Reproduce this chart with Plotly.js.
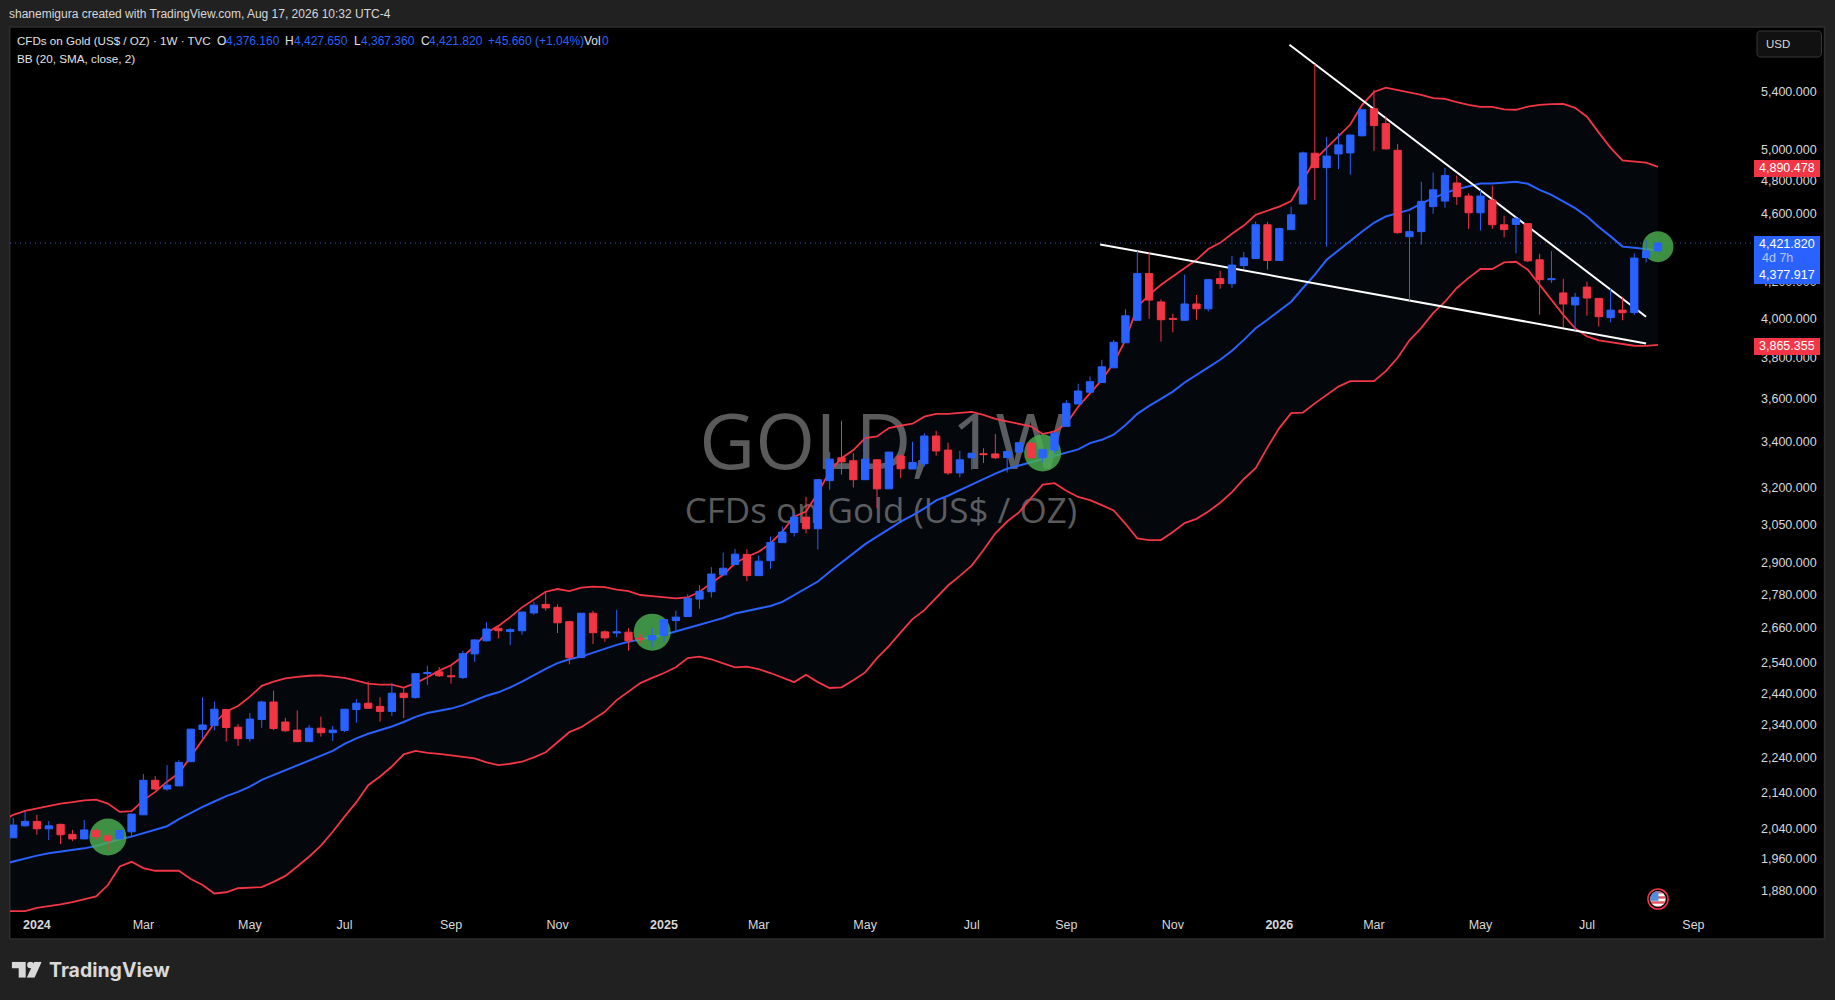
<!DOCTYPE html>
<html>
<head>
<meta charset="utf-8">
<script src="https://cdn.plot.ly/plotly-3.0.1.min.js"></script>
<style>html,body{margin:0;padding:0;background:#212121;overflow:hidden}#chart{width:1835px;height:1000px}</style>
</head>
<body>
<div id="chart"></div>
<script>
var firstWeek = '2023-12-18';
var bandLeadWeek = '2023-12-11';
var opens = [2016,2048,2060,2040,2052,2025,2013,2035,2021,2013,
2032,2078,2175,2150,2159,2229,2326,2338,2388,2333,
2298,2357,2412,2349,2324,2289,2330,2316,2323,2388,
2408,2398,2382,2440,2426,2504,2510,2497,2491,2570,
2615,2658,2647,2650,2713,2744,2733,2682,2558,2712,
2646,2642,2645,2624,2618,2633,2686,2700,2763,2790,
2853,2892,2931,2850,2907,2977,3017,3079,3032,3231,
3330,3317,3235,3321,3196,3338,3281,3304,3427,3364,
3264,3330,3348,3347,3331,3355,3395,3330,3364,3471,
3575,3631,3678,3750,3876,3993,4247,4091,4003,3993,
4080,4054,4219,4191,4293,4332,4530,4321,4501,4656,
4979,4885,4974,4981,5095,5280,5177,4998,4459,4489,
4640,4674,4787,4705,4602,4680,4530,4532,4537,4325,
4213,4140,4075,4172,4110,4007,4047,4034,4338,4376.16];
var highs = [2069,2086,2078,2061,2054,2037,2064,2042,2028,2037,
2082,2193,2187,2219,2234,2328,2427,2414,2390,2343,
2377,2416,2448,2362,2385,2340,2366,2337,2390,2421,
2478,2427,2473,2457,2506,2530,2526,2530,2581,2620,
2680,2667,2659,2717,2753,2789,2744,2685,2713,2721,
2651,2724,2659,2639,2659,2690,2721,2781,2814,2882,
2938,2952,2951,2927,3001,3041,3095,3163,3238,3355,
3497,3350,3436,3324,3356,3345,3401,3440,3451,3397,
3361,3352,3372,3436,3359,3400,3401,3368,3443,3593,
3672,3708,3790,3891,4052,4377,4371,4105,4028,4241,
4129,4217,4263,4347,4370,4550,4547,4511,4640,4990,
5601,5087,5114,5102,5275,5412,5227,5041,4595,4795,
4853,4883,4834,4723,4744,4771,4584,4580,4541,4359,
4375,4218,4140,4202,4112,4163,4119,4362,4441,4427.65];
var lows = [2015,2046,2024,2010,1999,2007,2012,2010,1983,2012,
2021,2078,2147,2145,2159,2229,2299,2323,2289,2276,
2289,2331,2324,2319,2287,2288,2304,2291,2318,2347,
2390,2350,2368,2361,2423,2467,2493,2471,2486,2543,
2612,2623,2600,2636,2706,2721,2642,2535,2558,2604,
2612,2628,2581,2607,2593,2612,2651,2698,2728,2769,
2852,2891,2829,2850,2876,2976,3001,3014,2950,3192,
3257,3202,3235,3115,3196,3242,3281,3292,3340,3255,
3245,3278,3307,3324,3266,3353,3328,3309,3350,3468,
3575,3631,3675,3750,3875,3993,4001,3882,3930,3993,
3996,4040,4163,4168,4273,4331,4269,4321,4500,4655,
4680,4401,4876,4840,5090,4994,5005,4477,4097,4413,
4596,4634,4650,4505,4496,4505,4455,4362,4312,4022,
4195,3958,3940,4017,3961,3982,3993,4021,4310,4367.36];
var closes = [2050,2060,2040,2048,2024,2013,2037,2019,2008,2035,
2080,2175,2150,2161,2227,2327,2340,2389,2332,2298,
2358,2412,2329,2322,2289,2330,2316,2324,2389,2408,
2392,2382,2440,2426,2504,2508,2497,2494,2571,2618,
2656,2650,2654,2716,2741,2731,2678,2557,2712,2643,
2625,2646,2615,2621,2633,2689,2698,2766,2792,2856,
2878,2932,2850,2905,2978,3019,3079,3032,3235,3324,
3312,3235,3324,3196,3355,3282,3309,3427,3360,3264,
3321,3350,3344,3330,3358,3397,3330,3367,3440,3578,
3637,3682,3755,3879,4017,4247,4101,3996,3998,4080,
4054,4213,4191,4295,4336,4530,4321,4507,4590,4981,
4885,4960,5034,5100,5273,5164,5007,4483,4489,4672,
4744,4834,4701,4602,4705,4530,4501,4566,4319,4213,
4218,4080,4116,4112,4012,4047,4033,4335,4376,4421.82];
var bbUpper = [2060,2078,2089,2096,2104,2109,2113,2118,2120,2109,2086,
2088,2118,2142,2171,2195,2244,2294,2346,2382,2399,
2429,2464,2478,2488,2493,2497,2498,2495,2490,2481,
2471,2468,2468,2458,2473,2492,2514,2532,2561,2597,
2642,2667,2698,2733,2762,2790,2800,2792,2805,2809,
2807,2798,2792,2778,2774,2771,2766,2769,2790,2822,
2853,2897,2922,2941,2974,3021,3081,3102,3178,3271,
3328,3364,3418,3425,3463,3474,3483,3516,3529,3529,
3533,3538,3524,3506,3494,3483,3471,3436,3448,3483,
3562,3626,3691,3774,3891,4064,4129,4185,4230,4275,
4325,4387,4423,4477,4525,4590,4614,4640,4674,4808,
4936,5014,5089,5171,5307,5398,5429,5412,5391,5377,
5355,5350,5327,5307,5293,5293,5275,5273,5295,5307,
5312,5314,5286,5225,5116,5014,4932,4925,4917,4890.478];
var bbBasis = [1946,1954,1962,1969,1975,1979,1982,1988,1994,2003,2012,
2019,2028,2037,2047,2066,2084,2100,2115,2130,2142,
2157,2176,2190,2204,2219,2234,2248,2261,2282,2299,
2313,2323,2335,2349,2365,2377,2385,2391,2402,2417,
2432,2443,2459,2478,2500,2520,2539,2552,2561,2575,
2588,2601,2612,2621,2628,2636,2647,2659,2671,2683,
2695,2711,2720,2728,2738,2753,2778,2803,2828,2865,
2899,2935,2971,3001,3031,3061,3086,3115,3148,3167,
3191,3215,3238,3261,3282,3296,3309,3321,3338,3350,
3367,3395,3410,3433,3477,3529,3566,3599,3634,3678,
3713,3752,3790,3836,3891,3951,3996,4042,4092,4167,
4241,4325,4381,4437,4490,4542,4580,4600,4620,4660,
4691,4723,4748,4765,4784,4784,4791,4795,4782,4744,
4712,4670,4630,4580,4517,4461,4401,4395,4387,4377.917];
var bbLower = [1830,1830,1830,1838,1842,1846,1852,1859,1866,1894,1941,
1953,1937,1930,1930,1930,1909,1894,1873,1876,1886,
1888,1889,1902,1917,1941,1966,1995,2032,2073,2113,
2161,2186,2215,2251,2261,2255,2252,2248,2242,2239,
2227,2219,2223,2229,2242,2257,2287,2318,2333,2356,
2381,2418,2444,2473,2490,2506,2525,2556,2561,2552,
2538,2525,2527,2519,2506,2491,2476,2500,2476,2457,
2459,2482,2508,2556,2597,2644,2691,2723,2768,2813,
2849,2888,2948,3014,3061,3098,3156,3214,3220,3188,
3162,3149,3128,3106,3052,2994,2987,2987,3019,3055,
3072,3102,3138,3182,3238,3285,3376,3463,3532,3535,
3578,3618,3658,3685,3685,3685,3734,3800,3889,3953,
4031,4092,4167,4223,4273,4273,4310,4314,4269,4185,
4101,4022,3951,3909,3888,3879,3869,3861,3860,3865.355];
var priceTicks = [5400,5000,4800,4600,4200,4000,3800,3600,3400,3200,3050,2900,2780,2660,2540,2440,2340,2240,2140,2040,1960,1880];
var priceLabels = ['5,400.000','5,000.000','4,800.000','4,600.000','4,200.000','4,000.000','3,800.000','3,600.000','3,400.000','3,200.000','3,050.000','2,900.000','2,780.000','2,660.000','2,540.000','2,440.000','2,340.000','2,240.000','2,140.000','2,040.000','1,960.000','1,880.000'];
var timeTicks = ['2024-01-01','2024-03-04','2024-05-06','2024-07-01','2024-09-02','2024-11-04','2025-01-06','2025-03-03','2025-05-05','2025-07-07','2025-09-01','2025-11-03','2026-01-05','2026-03-02','2026-05-04','2026-07-06','2026-09-07'];
var timeLabels = ['<b>2024</b>','Mar','May','Jul','Sep','Nov','<b>2025</b>','Mar','May','Jul','Sep','Nov','<b>2026</b>','Mar','May','Jul','Sep'];
var signalDates = ['2024-02-12','2024-12-30','2025-08-18','2026-08-17'];
var signalPrices = [2018,2645,3351,4401];
var signalSizes = [37,37,37,31];
var upperTrendDates = ['2026-01-11','2026-08-10'];
var upperTrendPrices = [5746,4012];
var lowerTrendDates = ['2025-09-21','2026-08-10'];
var lowerTrendPrices = [4414,3873];
var lastPrice = 4421.82;

var dates = opens.map(function(_, i){
  var d = new Date(firstWeek + 'T00:00:00Z');
  d.setUTCDate(d.getUTCDate() + 7*i);
  return d.toISOString().slice(0,10);
});
var bandDates = [bandLeadWeek].concat(dates);

var L = 10.3, T = 27, R = 1755, B = 915, W = R-L, H = B-T;
function px(x){ return (x-L)/W; }
function py(y){ return 1-(y-T)/H; }
var xRange = ['2023-12-16 02:00','2026-10-13 10:00'];
var yRange = [Math.log10(1820.5), Math.log10(5882)];
var BLUE = '#2962ff', RED = '#f23645';
var FONT = '"Liberation Sans",sans-serif';
var FONT2 = '"Open Sans","Noto Sans",sans-serif';
var bandFill = 'rgba(100,166,255,0.045)';

var traces = [
  {type:'scatter',mode:'lines',x:bandDates,y:bbLower,line:{color:RED,width:1.8},hoverinfo:'skip',showlegend:false},
  {type:'scatter',mode:'lines',x:bandDates,y:bbUpper,line:{color:RED,width:1.8},fill:'tonexty',fillcolor:bandFill,hoverinfo:'skip',showlegend:false},
  {type:'scatter',mode:'lines',x:bandDates,y:bbBasis,line:{color:BLUE,width:2},hoverinfo:'skip',showlegend:false},
  {type:'scatter',mode:'lines',x:xRange,y:[lastPrice,lastPrice],line:{color:'rgba(70,120,255,0.75)',width:1,dash:'1px 4px'},hoverinfo:'skip',showlegend:false},
  {type:'scatter',mode:'markers',x:signalDates,y:signalPrices,marker:{size:signalSizes,opacity:1,color:'rgba(76,175,80,0.82)',line:{width:0}},hoverinfo:'skip',showlegend:false},
  {type:'scatter',mode:'lines',x:upperTrendDates,y:upperTrendPrices,line:{color:'#ffffff',width:2},hoverinfo:'skip',showlegend:false},
  {type:'scatter',mode:'lines',x:lowerTrendDates,y:lowerTrendPrices,line:{color:'#ffffff',width:2},hoverinfo:'skip',showlegend:false},
  {type:'candlestick',x:dates,open:opens,high:highs,low:lows,close:closes,xaxis:'x2',yaxis:'y2',whiskerwidth:0,
   increasing:{line:{color:BLUE,width:1},fillcolor:BLUE},decreasing:{line:{color:RED,width:1},fillcolor:RED},hoverinfo:'skip',showlegend:false}
];

function note(x,y,text,color,size,anchor,font){
  return {xref:'paper',yref:'paper',x:px(x),y:py(y),text:text,showarrow:false,xanchor:anchor||'left',yanchor:'middle',
    font:{family:font||FONT,size:size||12,color:color||'#d8d8d8'},borderpad:0,borderwidth:0};
}
function rr(x0,y0,x1,y1,r){
  var a=px(x0),b=px(x1),c=py(y0),d=py(y1),rx=r/W,ry=r/H;
  return 'M'+(a+rx)+','+c+' L'+(b-rx)+','+c+' Q'+b+','+c+' '+b+','+(c-ry)+' L'+b+','+(d+ry)+' Q'+b+','+d+' '+(b-rx)+','+d+
    ' L'+(a+rx)+','+d+' Q'+a+','+d+' '+a+','+(d+ry)+' L'+a+','+(c-ry)+' Q'+a+','+c+' '+(a+rx)+','+c+' Z';
}
function pbox(x0,y0,x1,y1,fill,line,extra){
  var s={type:'rect',xref:'paper',yref:'paper',x0:px(x0),x1:px(x1),y0:py(y0),y1:py(y1),fillcolor:fill,line:line||{width:0},layer:'below'};
  for(var k in (extra||{})) s[k]=extra[k];
  return s;
}

var shapes = [
  pbox(10,27,1824.5,939,'#000000',{color:'#2e2e2e',width:1.5}),
  Object.assign(pbox(383,397,1383,492,'rgba(0,0,0,0)'),{label:{text:'GOLD, 1W',font:{family:FONT2,size:77,color:'#5a5a5a'},textposition:'middle center'}}),
  Object.assign(pbox(381,490,1381,533,'rgba(0,0,0,0)'),{label:{text:'CFDs on Gold (US$ / OZ)',font:{family:FONT2,size:35,color:'#5a5a5a'},textposition:'middle center'}}),
  {type:'path',xref:'paper',yref:'paper',path:rr(1757,31,1821.5,57,4),fillcolor:'#111111',line:{color:'#363636',width:1},layer:'above'},
  pbox(1754,160,1820,177,RED,null,{layer:'above'}),
  pbox(1754,236,1820,284,BLUE,null,{layer:'above'}),
  pbox(1754,338,1820,355,RED,null,{layer:'above'})
];

var annotations = [
  note(9.4,14.5,'shanemigura created with TradingView.com, Aug 17, 2026 10:32 UTC-4','#d8d8d8',12),
  note(17.6,41,'CFDs on Gold (US$ / OZ) · 1W · TVC','#e0e0e0',11.6),
  note(217.7,41,'O','#e0e0e0',12), note(226,41,'4,376.160',BLUE,12),
  note(285.5,41,'H','#e0e0e0',12), note(294,41,'4,427.650',BLUE,12),
  note(354.6,41,'L','#e0e0e0',12), note(361.6,41,'4,367.360',BLUE,12),
  note(421,41,'C','#e0e0e0',12), note(429,41,'4,421.820',BLUE,12),
  note(488,41,'+45.660 (+1.04%)',BLUE,12),
  note(584,41,'Vol','#e0e0e0',12), note(602,41,'0',BLUE,12),
  note(17.6,58.5,'BB (20, SMA, close, 2)','#e0e0e0',11.7),
  note(1766,44.5,'USD','#d8d8d8',11.5),
  note(1815,168,'4,890.478','#ffffff',12.5,'right'),
  note(1815,244,'4,421.820','#ffffff',12.5,'right'),
  note(1762,258,'4d 7h','#b4c6f8',12.5),
  note(1815,275,'4,377.917','#ffffff',12.5,'right'),
  note(1815,346,'3,865.355','#ffffff',12.5,'right'),
  note(49,969.5,'<b>TradingView</b>','#d9d9d9',19.5,'left','"Inter","Roboto",sans-serif')
];

var logoSvg = '<svg xmlns="http://www.w3.org/2000/svg" viewBox="0 0 30 16"><path fill="#d9d9d9" d="M0 0H14V16H7V6.5H0Z"/><circle fill="#d9d9d9" cx="18.7" cy="3.3" r="3.3"/><path fill="#d9d9d9" d="M22.5 0H30L22.8 16H15Z"/></svg>';
var flagSvg = '<svg xmlns="http://www.w3.org/2000/svg" viewBox="0 0 24 24"><circle cx="12" cy="12" r="11" fill="#000" stroke="#f23645" stroke-width="1.6"/><clipPath id="c"><circle cx="12" cy="12" r="8.4"/></clipPath><g clip-path="url(#c)"><rect width="24" height="24" fill="#fff"/><rect y="3" width="24" height="3" fill="#e05260"/><rect y="9" width="24" height="2.6" fill="#e05260"/><rect y="14.5" width="24" height="2.6" fill="#e05260"/><rect y="19.5" width="24" height="3" fill="#e05260"/><rect x="2" y="3" width="10.5" height="11" fill="#4a8fe0"/></g></svg>';
function dataUri(s){ return 'data:image/svg+xml;base64,'+btoa(s); }

var images = [
  {source:dataUri(logoSvg),xref:'paper',yref:'paper',x:px(12),y:py(961.7),sizex:30/W,sizey:16/H,xanchor:'left',yanchor:'top',sizing:'stretch',layer:'above'},
  {source:dataUri(flagSvg),xref:'paper',yref:'paper',x:px(1647),y:py(888),sizex:22/W,sizey:22/H,xanchor:'left',yanchor:'top',sizing:'stretch',layer:'above'}
];

var layout = {
  width:1835,height:1000,
  margin:{l:L,r:1835-R,t:T,b:1000-B,pad:0},
  paper_bgcolor:'#212121',plot_bgcolor:'#000000',
  showlegend:false,boxgap:0.12,dragmode:false,hovermode:false,
  font:{family:FONT,color:'#d8d8d8',size:13},
  xaxis:{type:'date',range:xRange,tickmode:'array',tickvals:timeTicks,ticktext:timeLabels,tickangle:0,showgrid:false,zeroline:false,showline:false,ticks:'',
    tickfont:{family:FONT,size:12.5,color:'#d8d8d8'},rangeslider:{visible:false}},
  yaxis:{type:'log',range:yRange,side:'right',tickmode:'array',tickvals:priceTicks,ticktext:priceLabels,showgrid:false,zeroline:false,showline:false,ticks:'',
    tickfont:{family:FONT,size:12.5,color:'#d8d8d8'},ticklabelstandoff:5},
  xaxis2:{type:'date',range:xRange,overlaying:'x',anchor:'y2',visible:false,rangeslider:{visible:false}},
  yaxis2:{type:'log',range:yRange,overlaying:'y',anchor:'x2',side:'right',visible:false},
  shapes:shapes,annotations:annotations,images:images
};
Plotly.newPlot('chart',traces,layout,{staticPlot:true,displayModeBar:false});
</script>
</body>
</html>
